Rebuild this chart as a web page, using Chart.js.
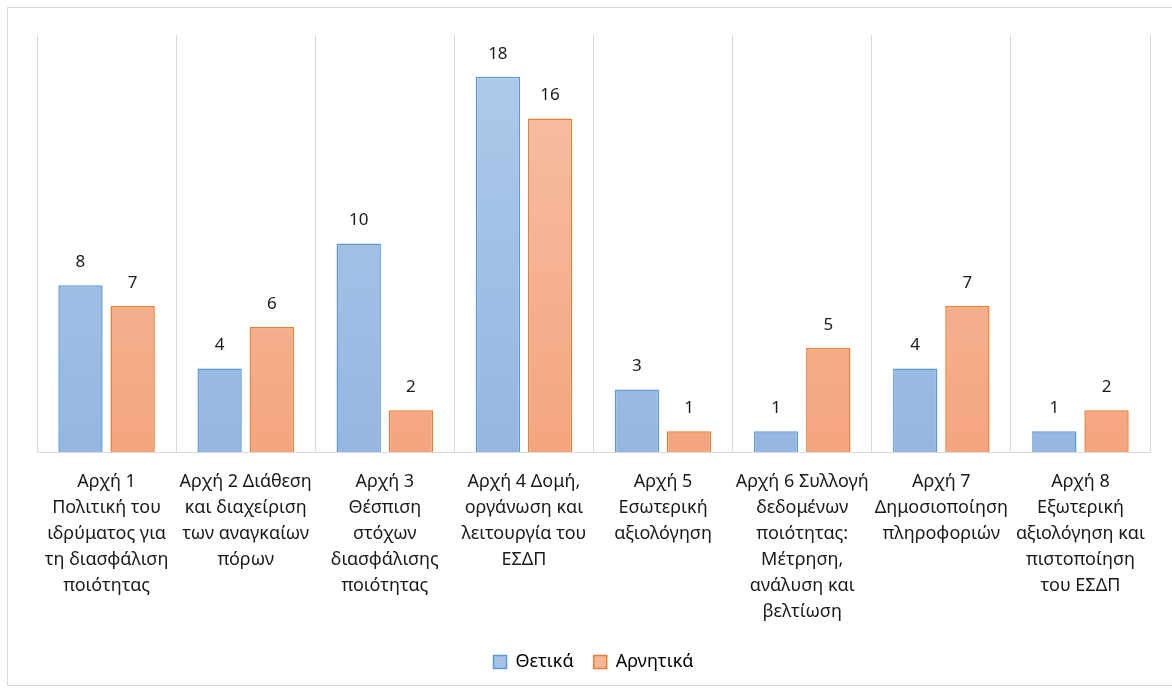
<!DOCTYPE html>
<html>
<head>
<meta charset="utf-8">
<script src="https://cdn.jsdelivr.net/npm/chart.js@4.4.1/dist/chart.umd.min.js"></script>
<style>
  body { margin: 0; background: #fff; overflow: hidden; }
  #wrap { position: absolute; left: 7px; top: 7px; width: 1180px; height: 677px; border: 1px solid #d9d9d9; }
  canvas { display: block; }
</style>
</head>
<body>
<div id="wrap"><canvas id="chart" width="1180" height="677"></canvas></div>
<script>
// categories (one array of lines per label)
const categories = [
    ['Αρχή 1', 'Πολιτική του', 'ιδρύματος για', 'τη διασφάλιση', 'ποιότητας'],
    ['Αρχή 2 Διάθεση', 'και διαχείριση', 'των αναγκαίων', 'πόρων'],
    ['Αρχή 3', 'Θέσπιση', 'στόχων', 'διασφάλισης', 'ποιότητας'],
    ['Αρχή 4 Δομή,', 'οργάνωση και', 'λειτουργία του', 'ΕΣΔΠ'],
    ['Αρχή 5', 'Εσωτερική', 'αξιολόγηση'],
    ['Αρχή 6 Συλλογή', 'δεδομένων', 'ποιότητας:', 'Μέτρηση,', 'ανάλυση και', 'βελτίωση'],
    ['Αρχή 7', 'Δημοσιοποίηση', 'πληροφοριών'],
    ['Αρχή 8', 'Εξωτερική', 'αξιολόγηση και', 'πιστοποίηση', 'του ΕΣΔΠ']
];
const positive = [8, 4, 10, 18, 3, 1, 4, 1];
const negative = [7, 6, 2, 16, 1, 5, 7, 2];
const seriesNames = ['Θετικά', 'Αρνητικά'];

const FONT = "'Noto Sans', sans-serif";
const TEXT = '#1a1a1a';

function gradient(top, bottom) {
    return (ctx) => {
        const area = ctx.chart.chartArea;
        if (!area) return top;
        const g = ctx.chart.ctx.createLinearGradient(0, area.top, 0, area.bottom);
        g.addColorStop(0, top);
        g.addColorStop(1, bottom);
        return g;
    };
}

// draw value labels above each bar
const valueLabels = {
    id: 'valueLabels',
    afterDatasetsDraw(chart) {
        const c = chart.ctx;
        c.save();
        c.font = "17px " + FONT;
        c.fillStyle = TEXT;
        c.textAlign = 'center';
        c.textBaseline = 'middle';
        chart.data.datasets.forEach((ds, i) => {
            chart.getDatasetMeta(i).data.forEach((bar, j) => {
                c.fillText(ds.data[j], bar.x, bar.y - 23);
            });
        });
        c.restore();
    }
};

new Chart(document.getElementById('chart'), {
    type: 'bar',
    data: {
        labels: categories,
        datasets: [{
            label: seriesNames[0],
            data: positive,
            backgroundColor: gradient('#b0cbeb', '#94b6e1'),
            borderColor: '#5b9bd5',
            borderWidth: 1.5,
            legendColor: '#a7c3e7',
            barPercentage: 0.85,
            categoryPercentage: 0.75
        }, {
            label: seriesNames[1],
            data: negative,
            backgroundColor: gradient('#f7c1a8', '#f4a57f'),
            borderColor: '#ed7d31',
            borderWidth: 1.5,
            legendColor: '#f6b697',
            barPercentage: 0.85,
            categoryPercentage: 0.75
        }]
    },
    options: {
        responsive: false,
        animation: false,
        layout: { padding: { left: 29, right: 38, top: 27, bottom: 4 } },
        scales: {
            x: {
                grid: { color: '#d9d9d9', lineWidth: 1, drawTicks: false, offset: true },
                border: { color: '#d9d9d9' },
                ticks: {
                    autoSkip: false,
                    maxRotation: 0,
                    padding: 17,
                    color: TEXT,
                    font: { family: FONT, size: 18, lineHeight: '26px' }
                },
                // labels may run into the gap above the legend
                afterFit(scale) { scale.height -= 9; }
            },
            y: {
                display: false,
                min: 0,
                max: 20
            }
        },
        plugins: {
            tooltip: { enabled: false },
            legend: {
                position: 'bottom',
                labels: {
                    boxWidth: 13,
                    boxHeight: 13,
                    padding: 20,
                    color: TEXT,
                    font: { family: FONT, size: 18 },
                    generateLabels(chart) {
                        return chart.data.datasets.map((ds, i) => ({
                            text: ds.label,
                            fillStyle: ds.legendColor,
                            strokeStyle: ds.borderColor,
                            lineWidth: 1.5,
                            datasetIndex: i
                        }));
                    }
                }
            }
        }
    },
    plugins: [valueLabels]
});
</script>
</body>
</html>
